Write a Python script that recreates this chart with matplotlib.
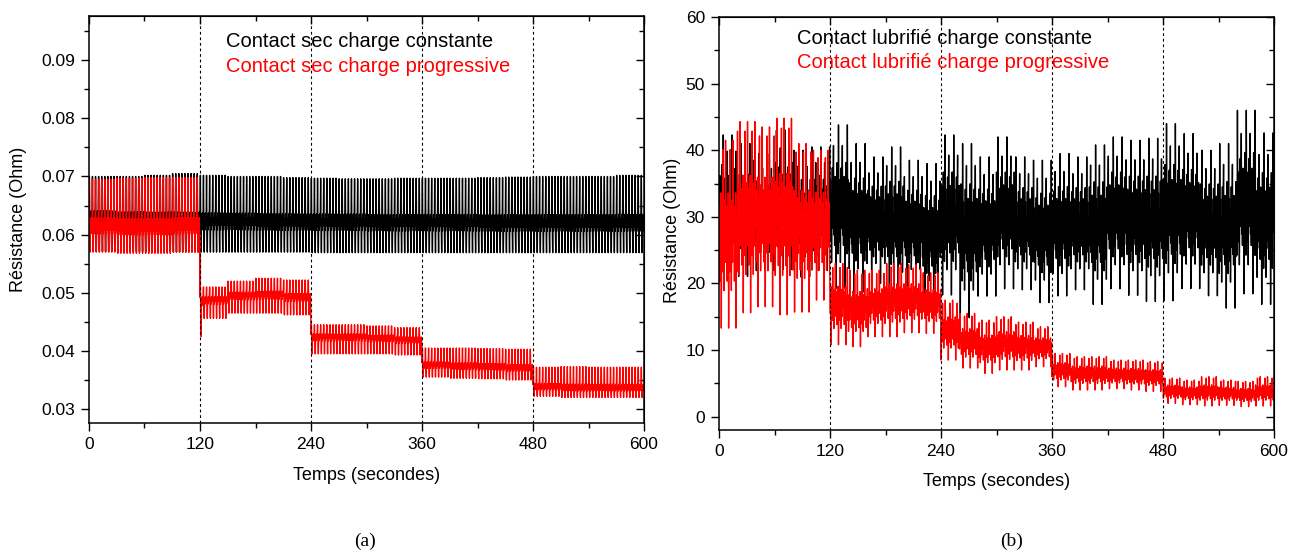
import numpy as np
import matplotlib.pyplot as plt
from matplotlib.ticker import MultipleLocator, FormatStrFormatter, NullFormatter

plt.rcParams['font.family'] = ['Liberation Sans', 'DejaVu Sans']

# ---- panel (a): contact sec, levels read per 30 s window ----
a_win = 30
a_black_hi = [0.0700, 0.0700, 0.0702, 0.0705, 0.0702, 0.0700, 0.0700, 0.0698, 0.0697, 0.0696,
              0.0696, 0.0697, 0.0697, 0.0697, 0.0698, 0.0699, 0.0700, 0.0700, 0.0700, 0.0702]
a_black_mid = [0.0626, 0.0624, 0.0623, 0.0622, 0.0621, 0.0621, 0.0620, 0.0620, 0.0620, 0.0620,
               0.0619, 0.0619, 0.0619, 0.0619, 0.0618, 0.0618, 0.0618, 0.0618, 0.0618, 0.0618]
a_black_lo = [0.0571, 0.0571, 0.0570, 0.0570, 0.0570, 0.0570, 0.0570, 0.0570, 0.0569, 0.0569,
              0.0569, 0.0569, 0.0569, 0.0569, 0.0569, 0.0569, 0.0569, 0.0569, 0.0569, 0.0569]

a_red_hi = [0.0695, 0.0697, 0.0698, 0.0698, 0.0510, 0.0520, 0.0525, 0.0522, 0.0445, 0.0445,
            0.0443, 0.0440, 0.0405, 0.0405, 0.0404, 0.0403, 0.0372, 0.0373, 0.0372, 0.0372]
a_red_mid = [0.0612, 0.0610, 0.0610, 0.0612, 0.0489, 0.0496, 0.0497, 0.0493, 0.0425, 0.0425,
             0.0423, 0.0420, 0.0375, 0.0373, 0.0372, 0.0370, 0.0337, 0.0335, 0.0335, 0.0335]
a_red_lo = [0.0570, 0.0568, 0.0568, 0.0570, 0.0456, 0.0465, 0.0465, 0.0462, 0.0395, 0.0395,
            0.0395, 0.0393, 0.0355, 0.0353, 0.0352, 0.0350, 0.0322, 0.0320, 0.0320, 0.0320]
# the sharp dip of the red trace right after 120 s
a_red_drop_t = [120.4, 121.2, 122.2]
a_red_drop_v = [0.0600, 0.0425, 0.0478]

# one oscillation (relative to mid level: +1 = peak, -1 = trough)
a_cycle = [0.15, 1.0, -0.2, -1.0, 0.1, -0.25, 0.2, -0.1]
a_cycles_per_win = 9

# ---- panel (b): contact lubrifié, envelopes read per 20 s window ----
b_win = 20
b_black_hi = [42.3, 41.0, 39.5, 43.0, 40.0, 40.5, 43.8, 41.0, 39.0, 40.5, 38.5, 38.0, 42.3, 41.0, 39.0,
              42.0, 39.0, 38.5, 39.5, 39.0, 40.8, 42.0, 41.5, 41.8, 44.0, 42.5, 40.0, 41.0, 46.0, 42.6]
b_black_lo = [22.0, 20.0, 21.0, 21.0, 20.0, 21.0, 18.0, 17.5, 19.0, 17.0, 18.0, 16.0, 17.0, 13.5, 17.0,
              18.0, 18.0, 16.0, 17.0, 18.0, 15.6, 18.0, 17.0, 16.0, 16.0, 18.0, 17.0, 15.0, 17.0, 15.5]
b_red_hi = [41.5, 44.3, 43.5, 44.8, 41.0, 40.0, 23.0, 22.0, 22.0, 23.0, 22.8, 21.6, 17.5, 15.5, 14.5,
            15.0, 14.2, 13.5, 9.5, 9.0, 9.0, 8.5, 8.5, 8.3, 5.8, 5.5, 6.0, 5.5, 5.3, 6.0]
b_red_lo = [13.3, 15.6, 16.5, 15.3, 15.7, 17.5, 10.8, 10.5, 12.0, 12.0, 12.6, 12.5, 8.5, 7.3, 6.5,
            7.0, 7.0, 7.5, 4.5, 4.0, 4.0, 4.2, 4.0, 3.8, 2.0, 1.8, 1.6, 1.7, 1.5, 1.6]

# spike pattern inside the envelopes (0 = lower edge, 1 = upper edge)
b_black_shape = [0.55, 0.30, 0.70, 0.42, 0.62, 0.05, 0.50, 0.78, 0.35, 0.60, 0.25, 1.00,
                 0.45, 0.68, 0.32, 0.58, 0.20, 0.52, 0.75, 0.40, 0.65, 0.88, 0.36]
b_red_shape = [0.45, 0.65, 0.25, 0.55, 0.38, 0.72, 0.00, 0.50, 0.60, 0.30, 0.95, 0.42,
               0.58, 0.20, 0.48, 0.68, 0.35, 1.00, 0.52]
b_pts_per_win = 48

steps = [120, 240, 360, 480]


def trace_a(hi, mid, lo):
    hi, mid, lo = np.array(hi), np.array(mid), np.array(lo)
    per = a_cycles_per_win * len(a_cycle)
    n = len(hi) * per
    t = np.arange(n) * a_win / per
    w = np.arange(n) // per
    f = np.resize(a_cycle, n)
    v = np.where(f >= 0, mid[w] + f * (hi[w] - mid[w]), mid[w] + f * (mid[w] - lo[w]))
    return t, v


def trace_b(hi, lo, shape):
    hi, lo = np.array(hi), np.array(lo)
    n = len(hi) * b_pts_per_win
    t = np.arange(n) * b_win / b_pts_per_win
    w = np.arange(n) // b_pts_per_win
    f = np.resize(shape, n)
    return t, lo[w] + f * (hi[w] - lo[w])


def style(ax, ymajor, yminor, fmt):
    ax.set_xlim(0, 600)
    ax.xaxis.set_major_locator(MultipleLocator(120))
    ax.xaxis.set_minor_locator(MultipleLocator(60))
    ax.yaxis.set_major_locator(MultipleLocator(ymajor))
    ax.yaxis.set_minor_locator(MultipleLocator(yminor))
    if fmt:
        ax.yaxis.set_major_formatter(FormatStrFormatter(fmt))
    ax.tick_params(which='both', direction='out', labelsize=12.5, width=1, pad=4)
    ax.tick_params(which='major', length=6)
    ax.tick_params(which='minor', length=3.5)
    for s in ax.spines.values():
        s.set_linewidth(1.1)
    top = ax.secondary_xaxis('top')
    top.xaxis.set_major_locator(MultipleLocator(120))
    top.xaxis.set_minor_locator(MultipleLocator(60))
    top.xaxis.set_major_formatter(NullFormatter())
    right = ax.secondary_yaxis('right')
    right.yaxis.set_major_locator(MultipleLocator(ymajor))
    right.yaxis.set_minor_locator(MultipleLocator(yminor))
    right.yaxis.set_major_formatter(NullFormatter())
    for sec in (top, right):
        sec.tick_params(which='both', direction='in', width=1)
        sec.tick_params(which='major', length=6)
        sec.tick_params(which='minor', length=3.5)
    for x in steps:
        ax.axvline(x, color='black', lw=0.8, ls=(0, (2.5, 2.5)), zorder=3)


fig = plt.figure(figsize=(12.99, 5.58), dpi=100)

# (a)
ax_a = fig.add_axes([0.0685, 0.2419, 0.4273, 0.7294])
t, v = trace_a(a_black_hi, a_black_mid, a_black_lo)
ax_a.plot(t, v, color='black', lw=1.0)
t, v = trace_a(a_red_hi, a_red_mid, a_red_lo)
t = np.concatenate([t, a_red_drop_t])
v = np.concatenate([v, a_red_drop_v])
order = np.argsort(t)
ax_a.plot(t[order], v[order], color='#ff0000', lw=1.0)
ax_a.set_ylim(0.0276, 0.0976)
style(ax_a, 0.01, 0.005, '%.2f')
ax_a.set_xlabel('Temps (secondes)', fontsize=13)
ax_a.set_ylabel('Résistance (Ohm)', fontsize=13)
ax_a.xaxis.set_label_coords(0.5, -0.108)
ax_a.yaxis.set_label_coords(-0.112, 0.5)
ax_a.text(0.247, 0.9386, 'Contact sec charge constante', color='black', fontsize=14.5,
          va='center', transform=ax_a.transAxes)
ax_a.text(0.247, 0.877, 'Contact sec charge progressive', color='#ff0000', fontsize=14.5,
          va='center', transform=ax_a.transAxes)

# (b)
ax_b = fig.add_axes([0.5535, 0.2294, 0.4273, 0.7401])
t, v = trace_b(b_black_hi, b_black_lo, b_black_shape)
ax_b.plot(t, v, color='black', lw=1.0)
t, v = trace_b(b_red_hi, b_red_lo, b_red_shape)
ax_b.plot(t, v, color='#ff0000', lw=1.0)
ax_b.set_ylim(-2, 60)
style(ax_b, 10, 5, None)
ax_b.set_xlabel('Temps (secondes)', fontsize=13)
ax_b.set_ylabel('Résistance (Ohm)', fontsize=13)
ax_b.xaxis.set_label_coords(0.5, -0.105)
ax_b.yaxis.set_label_coords(-0.068, 0.484)
ax_b.text(0.1405, 0.947, 'Contact lubrifié charge constante', color='black', fontsize=14.5,
          va='center', transform=ax_b.transAxes)
ax_b.text(0.1405, 0.889, 'Contact lubrifié charge progressive', color='#ff0000', fontsize=14.5,
          va='center', transform=ax_b.transAxes)

fig.text(365 / 1299, 1 - 541 / 558, '(a)', family='Liberation Serif', fontsize=14,
         ha='center', va='center')
fig.text(1012 / 1299, 1 - 541 / 558, '(b)', family='Liberation Serif', fontsize=14,
         ha='center', va='center')

fig.savefig('out.png', dpi=100)
